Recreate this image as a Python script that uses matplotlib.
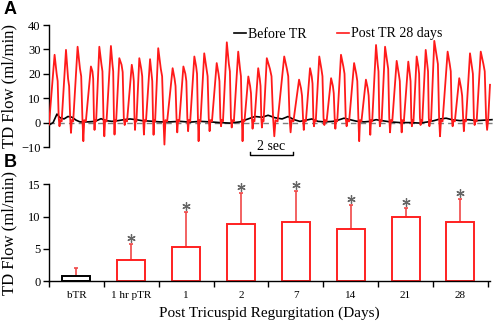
import matplotlib
matplotlib.use("Agg")
import matplotlib.pyplot as plt
from matplotlib.lines import Line2D

# ---------------- data ----------------
# Panel A: red trace (Post TR 28 days), per-cycle readings
peak_t = [0.26, 0.79, 1.33, 1.95, 2.34, 2.88, 3.27, 3.85, 4.20, 4.70, 5.08, 5.75,
          6.25, 6.76, 7.22, 7.80, 8.27, 8.80, 9.27, 9.73, 10.13, 10.94, 11.63,
          12.14, 12.57, 13.12, 13.58, 14.19, 14.74, 15.21, 15.63, 16.17, 16.71,
          17.10, 17.52, 17.92, 18.54, 19.08, 19.58, 20.08]
peak_v = [27.8, 29.8, 31.1, 23.0, 31.1, 31.4, 26.4, 23.7, 26.4, 26.0, 30.5, 22.3,
          23.0, 27.1, 28.4, 24.4, 32.9, 29.1, 18.9, 22.3, 26.4, 27.1, 17.6,
          22.3, 27.1, 18.2, 27.8, 24.4, 17.6, 31.8, 31.1, 25.3, 25.0,
          27.1, 29.8, 33.5, 29.1, 18.2, 28.4, 29.1]
shoulder_v = [20, 18, 22, 21, 24, 24, 23.7, 20, 22, 20, 22, 18,
              20, 23, 22, 20, 24, 22, 15, 18, 22, 22, 14,
              19, 22, 15, 23, 20, 14, 24, 25, 20, 20,
              23, 24, 27, 24, 14, 23, 24]
dip_v = [-1.5, -4.2, -7.6, -3.0, -5.6, -4.9, -1.0, -3.0, -4.9, -5.0, -9.0, -4.0,
         -3.5, -7.6, -3.5, -1.5, -2.0, -7.6, -2.5, -2.0, -5.6, -4.0, -3.0,
         -1.5, -1.0, -2.5, -1.5, -7.6, -5.0, -1.5, -4.0, -4.0, -1.5,
         -1.0, -1.5, -5.6, -1.5, -3.5, -1.0, -3.0]
red_start = (0.0, -0.8)
red_end = (20.51, 15.5)

# Panel A: black trace (Before TR)
black_t = [0.00, 0.19, 0.37, 0.51, 0.70, 0.88, 1.07, 1.26, 1.44, 1.81, 2.14, 2.42,
           2.65, 2.93, 3.21, 3.49, 3.77, 4.05, 4.33, 4.70, 5.16, 5.63, 6.09, 6.56,
           7.02, 7.49, 7.95, 8.42, 8.88, 9.26, 9.58, 9.91, 10.19, 10.51, 10.84,
           11.12, 11.40, 11.67, 11.95, 12.23, 12.51, 12.84, 13.21, 13.44, 13.72,
           14.00, 14.28, 14.65, 14.93, 15.21, 15.49, 15.86, 16.33, 16.79, 17.26,
           17.63, 17.91, 18.19, 18.47, 18.74, 19.12, 19.49, 19.86, 20.23, 20.60]
black_v = [-1.0, 0.0, 3.5, 2.0, 1.5, 2.5, 2.2, 1.0, 0.3, 0.3, 0.5, 1.6,
           0.8, 0.5, 0.8, 1.2, 1.5, 1.2, 0.8, 0.6, 0.3, 0.3, 0.5, 0.2,
           0.5, 0.3, 0.0, -0.2, 0.3, 1.5, 2.5, 2.2, 3.0, 2.0, 1.5,
           2.5, 1.2, 0.5, 1.0, 1.5, 0.5, 0.3, 0.5, 1.0, 1.8,
           1.2, 0.6, 0.3, 0.5, 1.2, 0.8, 0.3, 0.0, 0.0, -0.2,
           0.3, 0.8, 1.5, 1.8, 1.2, 0.8, 1.2, 0.8, 1.0, 1.2]

top_yticks = [40, 30, 20, 10, 0, -10]

# Panel B
categories = ["bTR", "1 hr pTR", "1", "2", "7", "14", "21", "28"]
means = [0.82, 3.26, 5.33, 8.85, 9.2, 8.0, 10.0, 9.2]
sds = [1.13, 2.44, 5.43, 4.75, 4.7, 3.8, 1.3, 3.5]
significant = [False, True, True, True, True, True, True, True]
bottom_yticks = [0, 5, 10, 15]

# ---------------- build red trace vertices ----------------
rx, ry = [red_start[0]], [red_start[1]]
n = len(peak_t)
for i in range(n):
    t = peak_t[i]
    gb = t - peak_t[i - 1] if i > 0 else None
    ga = (peak_t[i + 1] - t) if i + 1 < n else (red_end[0] - t) * 1.6
    if gb is not None:
        rx.append(t - 0.38 * gb); ry.append(0.5)
    rx += [t, t + 0.18 * ga, t + 0.27 * ga, t + 0.36 * ga, t + 0.43 * ga, t + 0.5 * ga]
    ry += [peak_v[i], shoulder_v[i], shoulder_v[i] - 3, 2, dip_v[i], 1]
rx.append(red_end[0]); ry.append(red_end[1])

# ---------------- figure ----------------
serif = "Liberation Serif"
plt.rcParams["font.family"] = serif
fig = plt.figure(figsize=(4.98, 3.25), dpi=100)

# Panel A
axA = fig.add_axes([49 / 498, 1 - 147 / 325, 444 / 498, 122 / 325])
axA.axhline(0, color="#7f7f7f", lw=1.0, ls=(0, (4, 3)), zorder=1)
axA.plot(black_t, black_v, color="black", lw=1.2, zorder=2)
axA.plot(rx, ry, color="#ff1a1a", lw=1.3, zorder=3)
axA.set_xlim(0, 20.65)
axA.set_ylim(-10, 40)
for s in ["top", "right", "bottom"]:
    axA.spines[s].set_visible(False)
axA.spines["left"].set_linewidth(1.0)
axA.set_xticks([])
axA.set_yticks(top_yticks)
axA.tick_params(axis="y", direction="out", length=4, width=1, labelsize=9, pad=2)
axA.set_ylabel("TD Flow (ml/min)", fontsize=12, labelpad=3)

# scale bar
sb_x0, sb_x1 = 9.35, 11.35
axA.plot([sb_x0, sb_x0, sb_x1, sb_x1], [-12.2, -13.4, -13.4, -12.2],
         color="black", lw=1.0, clip_on=False)
axA.text((sb_x0 + sb_x1) / 2, -9.8, "2 sec", ha="center", va="center",
         fontsize=10, clip_on=False)

handles = [Line2D([], [], color="black", lw=1.2),
           Line2D([], [], color="#ff1a1a", lw=1.2)]
fig.legend(handles, ["Before TR", "Post TR 28 days"], loc="center",
           bbox_to_anchor=(338 / 498, 1 - 34 / 325), ncol=2, frameon=False,
           fontsize=10, handlelength=0.9, handletextpad=0.1, columnspacing=2.2,
           borderaxespad=0, borderpad=0)

fig.text(4 / 498, 1 - 10 / 325, "A", fontsize=13, fontweight="bold",
         family="Liberation Sans", va="center", ha="left")
fig.text(4 / 498, 1 - 162 / 325, "B", fontsize=13, fontweight="bold",
         family="Liberation Sans", va="center", ha="left")

# Panel B
axB = fig.add_axes([49 / 498, 1 - 281 / 325, 441 / 498, (281 - 184.3) / 325])
x = list(range(len(categories)))
edge = ["black"] + ["#ff2020"] * (len(categories) - 1)
axB.bar(x, means, width=0.51, facecolor="white", edgecolor=edge, linewidth=1.4, zorder=2)
axB.errorbar(x, means, yerr=[[0] * len(sds), sds], fmt="none", ecolor="#f04848",
             elinewidth=1.2, capsize=1.5, capthick=1.2, zorder=1)
sx = [xi for xi, sig in zip(x, significant) if sig]
sy = [m + s + 0.95 for m, s, sig in zip(means, sds, significant) if sig]
axB.plot(sx, sy, linestyle="none", marker=(6, 2, 0), markersize=6,
         markeredgewidth=0.9, color="#666666", clip_on=False, zorder=4)
axB.set_xlim(-0.5, 7.54)
axB.set_ylim(0, 15)
for s in ["top", "right"]:
    axB.spines[s].set_visible(False)
axB.spines["left"].set_linewidth(1.0)
axB.spines["bottom"].set_linewidth(1.0)
axB.set_yticks(bottom_yticks)
axB.set_xticks(x)
axB.set_xticklabels(categories)
axB.set_xticks([i - 0.5 for i in range(len(categories) + 1)], minor=True)
axB.tick_params(axis="x", which="major", length=0, labelsize=8, pad=7)
axB.tick_params(axis="x", which="minor", direction="out", length=4, width=1)
axB.tick_params(axis="y", direction="out", length=4, width=1, labelsize=9, pad=2)
axB.set_ylabel("TD Flow (ml/min)", fontsize=12, labelpad=8)
axB.set_xlabel("Post Tricuspid Regurgitation (Days)", fontsize=11, labelpad=5)

fig.savefig("out.png", dpi=100)
